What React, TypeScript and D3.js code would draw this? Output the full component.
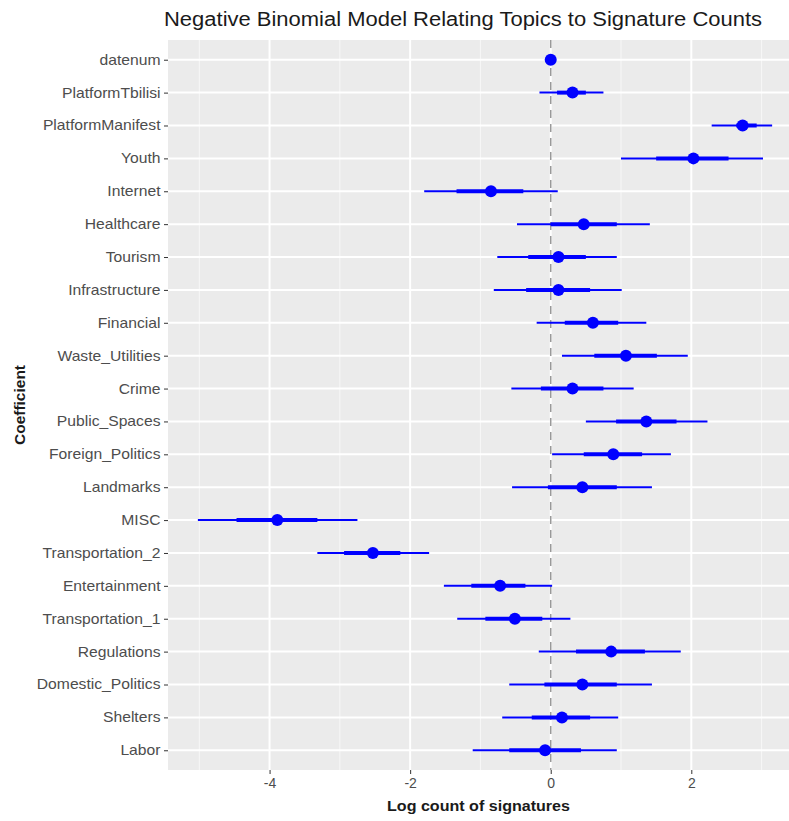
import React, { useEffect, useRef } from "react";
import * as d3 from "d3";

// coefficient names, top to bottom
const terms = [
  "datenum", "PlatformTbilisi", "PlatformManifest", "Youth", "Internet",
  "Healthcare", "Tourism", "Infrastructure", "Financial", "Waste_Utilities",
  "Crime", "Public_Spaces", "Foreign_Politics", "Landmarks", "MISC",
  "Transportation_2", "Entertainment", "Transportation_1", "Regulations",
  "Domestic_Politics", "Shelters", "Labor"
];
const estimate = [
  0, 0.31, 2.73, 2.03, -0.85, 0.47, 0.11, 0.11, 0.6, 1.07, 0.31,
  1.36, 0.89, 0.45, -3.89, -2.53, -0.72, -0.51, 0.86, 0.45, 0.16, -0.08
];
const outerLow = [
  -0.01, -0.16, 2.29, 1.0, -1.8, -0.48, -0.76, -0.81, -0.2, 0.16, -0.56,
  0.5, 0.02, -0.55, -5.02, -3.32, -1.52, -1.33, -0.17, -0.59, -0.69, -1.11
];
const outerHigh = [
  0.01, 0.75, 3.15, 3.02, 0.1, 1.41, 0.94, 1.01, 1.36, 1.95, 1.18,
  2.23, 1.71, 1.44, -2.75, -1.73, 0.02, 0.28, 1.85, 1.44, 0.96, 0.94
];
const innerLow = [
  -0.005, 0.09, 2.64, 1.5, -1.34, 0.0, -0.32, -0.35, 0.2, 0.62, -0.14,
  0.93, 0.47, -0.04, -4.47, -2.94, -1.13, -0.93, 0.36, -0.09, -0.27, -0.59
];
const innerHigh = [
  0.005, 0.5, 2.93, 2.53, -0.39, 0.94, 0.5, 0.56, 0.96, 1.51, 0.75,
  1.79, 1.3, 0.94, -3.32, -2.14, -0.36, -0.12, 1.34, 0.94, 0.56, 0.43
];
const majorTicks = [-4, -2, 0, 2];
const minorTicks = [-5, -3, -1, 1, 3];

const W = 789;
const H = 821;
const panel = { left: 168, right: 789, top: 40, bottom: 770 };
const font = "Liberation Sans, Arial, sans-serif";
// the source image is a little stretched sideways
const stretch = 1.12;

function App() {
  const svgRef = useRef<SVGSVGElement>(null);

  useEffect(() => {
    const svg = d3.select(svgRef.current);
    svg.selectAll("*").remove();

    const rows = terms.map((t, i) => ({
      term: t,
      est: estimate[i],
      lo: outerLow[i],
      hi: outerHigh[i],
      ilo: innerLow[i],
      ihi: innerHigh[i]
    }));

    const x = d3.scaleLinear().domain([-5.445, 3.39]).range([panel.left, panel.right]);
    const y = d3
      .scalePoint<string>()
      .domain(terms)
      .range([panel.top, panel.bottom])
      .padding(0.6);

    // panel background
    svg
      .append("rect")
      .attr("x", panel.left)
      .attr("y", panel.top)
      .attr("width", panel.right - panel.left)
      .attr("height", panel.bottom - panel.top)
      .attr("fill", "#ebebeb");

    // grid
    svg
      .append("g")
      .selectAll("line")
      .data(minorTicks)
      .join("line")
      .attr("x1", d => x(d))
      .attr("x2", d => x(d))
      .attr("y1", panel.top)
      .attr("y2", panel.bottom)
      .attr("stroke", "#f7f7f7")
      .attr("stroke-width", 1);
    svg
      .append("g")
      .selectAll("line")
      .data(majorTicks)
      .join("line")
      .attr("x1", d => x(d))
      .attr("x2", d => x(d))
      .attr("y1", panel.top)
      .attr("y2", panel.bottom)
      .attr("stroke", "#fff")
      .attr("stroke-width", 2);
    svg
      .append("g")
      .selectAll("line")
      .data(terms)
      .join("line")
      .attr("x1", panel.left)
      .attr("x2", panel.right)
      .attr("y1", d => y(d)!)
      .attr("y2", d => y(d)!)
      .attr("stroke", "#fff")
      .attr("stroke-width", 2);

    // zero reference line
    svg
      .append("line")
      .attr("x1", x(0))
      .attr("x2", x(0))
      .attr("y1", panel.top)
      .attr("y2", panel.bottom)
      .attr("stroke", "#999")
      .attr("stroke-width", 1.5)
      .attr("stroke-dasharray", "8,6");

    // intervals and points
    const g = svg.append("g");
    g.selectAll(".outer")
      .data(rows)
      .join("line")
      .attr("class", "outer")
      .attr("x1", d => x(d.lo))
      .attr("x2", d => x(d.hi))
      .attr("y1", d => y(d.term)!)
      .attr("y2", d => y(d.term)!)
      .attr("stroke", "#0000ff")
      .attr("stroke-width", 2);
    g.selectAll(".inner")
      .data(rows)
      .join("line")
      .attr("class", "inner")
      .attr("x1", d => x(d.ilo))
      .attr("x2", d => x(d.ihi))
      .attr("y1", d => y(d.term)!)
      .attr("y2", d => y(d.term)!)
      .attr("stroke", "#0000ff")
      .attr("stroke-width", 4);
    g.selectAll("circle")
      .data(rows)
      .join("circle")
      .attr("cx", d => x(d.est))
      .attr("cy", d => y(d.term)!)
      .attr("r", 6)
      .attr("fill", "#0000ff");

    // y axis
    const yAxis = svg.append("g").attr("transform", `translate(${panel.left},0)`);
    yAxis
      .call(d3.axisLeft(y).tickSize(4).tickPadding(3))
      .call(a => a.select(".domain").remove());
    yAxis.selectAll("line").attr("stroke", "#333");
    yAxis
      .selectAll("text")
      .attr("fill", "#4d4d4d")
      .attr("font-size", 14)
      .attr("font-family", font)
      .attr("x", -7.5 / stretch)
      .attr("transform", `scale(${stretch},1)`);

    // x axis
    const xAxis = svg.append("g").attr("transform", `translate(0,${panel.bottom})`);
    xAxis
      .call(d3.axisBottom(x).tickValues(majorTicks).tickSize(4).tickPadding(4))
      .call(a => a.select(".domain").remove());
    xAxis.selectAll("line").attr("stroke", "#333");
    xAxis
      .selectAll("text")
      .attr("fill", "#4d4d4d")
      .attr("font-size", 14)
      .attr("font-family", font)
      .text(d => (d as number) < 0 ? `-${Math.abs(d as number)}` : `${d}`);

    // titles
    svg
      .append("text")
      .attr("x", 164)
      .attr("y", 26)
      .attr("font-size", 20)
      .attr("font-family", font)
      .attr("fill", "#1a1a1a")
      .attr("textLength", 598)
      .attr("lengthAdjust", "spacingAndGlyphs")
      .text("Negative Binomial Model Relating Topics to Signature Counts");
    svg
      .append("text")
      .attr("x", 387)
      .attr("y", 811)
      .attr("font-size", 15)
      .attr("font-weight", "bold")
      .attr("font-family", font)
      .attr("fill", "#1a1a1a")
      .attr("textLength", 183)
      .attr("lengthAdjust", "spacingAndGlyphs")
      .text("Log count of signatures");
    svg
      .append("text")
      .attr("transform", `translate(25,${(panel.top + panel.bottom) / 2 + 40}) rotate(-90)`)
      .attr("font-size", 15)
      .attr("font-weight", "bold")
      .attr("font-family", font)
      .attr("fill", "#1a1a1a")
      .attr("textLength", 80)
      .attr("lengthAdjust", "spacingAndGlyphs")
      .text("Coefficient");
  }, []);

  return (
    <div style={{ position: "absolute", left: 0, top: 0 }}>
      <svg ref={svgRef} width={W} height={H} style={{ display: "block", background: "#fff" }} />
    </div>
  );
}

export default App;
